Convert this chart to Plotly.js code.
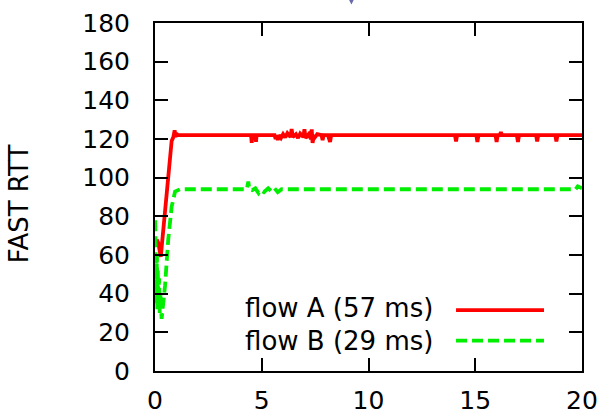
<!DOCTYPE html>
<html>
<head>
<meta charset="utf-8">
<script src="https://cdn.plot.ly/plotly-3.0.1.min.js"></script>
<style>html,body{margin:0;padding:0;background:#fff;}#chart{width:604px;height:418px;}</style>
</head>
<body>
<div id="chart"></div>
<script>
// flow A (57 ms) — FAST RTT vs time
const timeA = [0.08, 0.16, 0.27, 0.45, 0.62, 0.78, 0.86, 0.92, 0.96, 1.0, 1.05, 1.1,
  4.5, 4.53, 4.56, 4.7, 4.73, 4.76,
  5.6, 5.65, 5.7, 5.75, 5.8, 5.9, 6.0, 6.1, 6.2, 6.35, 6.4, 6.45, 6.6, 6.7, 6.8, 6.95, 7.0, 7.05,
  7.2, 7.3, 7.34, 7.38, 7.45, 7.5, 7.6, 7.8, 7.85, 7.9, 8.1, 8.2, 8.25, 8.3,
  14.05, 14.1, 14.15, 15.05, 15.1, 15.15, 15.95, 16.0, 16.05, 16.15, 16.2, 16.25,
  16.95, 17.0, 17.05, 17.85, 17.9, 17.95, 18.75, 18.8, 18.85, 20];
const rttA = [68, 66, 59, 82, 101, 119, 121, 124.5, 121, 123, 122, 122,
  122, 118, 122, 122, 118.5, 122,
  122, 120, 122, 119.5, 122, 120.5, 122.5, 120.8, 123, 121, 125.2, 121, 122.5, 120.5, 122.8, 121, 125, 120.5,
  122.5, 120, 125, 118, 122, 121, 122.5, 122, 119.5, 122, 122, 118.5, 122, 122,
  122, 118.7, 122, 122, 118.5, 122, 122, 118.5, 122, 122, 123.5, 122,
  122, 118.5, 122, 122, 118.7, 122, 122, 118.7, 122, 122];

// flow B (29 ms)
const timeB = [0.01, 0.03, 0.05, 0.07, 0.09, 0.11, 0.13, 0.16, 0.19, 0.22, 0.26, 0.31,
  0.47, 0.62, 0.78, 0.94, 1.17,
  4.3, 4.37, 4.42, 4.55, 4.7, 4.85, 4.95, 5.1, 5.3, 5.45, 5.6, 5.75, 5.93,
  19.7, 19.8, 20];
const rttB = [78, 45, 70, 35, 60, 32, 52, 36, 48, 30, 40, 27,
  44, 68, 85, 92.8, 94,
  94, 98, 94, 93.5, 94.5, 92, 93.5, 92.5, 94.5, 93, 94.5, 92.5, 94,
  94, 95.5, 94.5];

const xTicks = [0, 5, 10, 15, 20];
const yTicks = [0, 20, 40, 60, 80, 100, 120, 140, 160, 180];
const seriesNames = ["flow A (57 ms)", "flow B (29 ms)"];
const yTitle = "FAST RTT";

const FONT = "DejaVu Sans, Arial, sans-serif";

const traces = [
  {x: timeA, y: rttA, type: "scatter", mode: "lines", name: seriesNames[0],
   line: {color: "#ff0000", width: 3.8}},
  {x: timeB, y: rttB, type: "scatter", mode: "lines", name: seriesNames[1],
   line: {color: "#00ee00", width: 3.8, dash: "11px,5px"}}
];

const axisCommon = {
  showgrid: false, zeroline: false, showline: true, linecolor: "#000", linewidth: 2,
  mirror: "ticks", ticks: "inside", ticklen: 13, tickwidth: 2, tickcolor: "#000",
  tickfont: {family: FONT, size: 25, color: "#000"}
};

const layout = {
  width: 604, height: 418,
  margin: {l: 155, r: 22, t: 23, b: 47},
  paper_bgcolor: "#fff", plot_bgcolor: "#fff",
  showlegend: false,
  xaxis: Object.assign({}, axisCommon, {range: [0, 20], tickvals: xTicks, ticktext: xTicks.map(String), ticklabelstandoff: 6}),
  yaxis: Object.assign({}, axisCommon, {range: [0, 180], tickvals: yTicks, ticktext: yTicks.map(String), ticklabelstandoff: 18}),
  annotations: [
    {text: yTitle, xref: "paper", yref: "paper", x: -0.318, y: 0.48, textangle: -90,
     showarrow: false, xanchor: "center", yanchor: "middle", font: {family: FONT, size: 26, color: "#000"}},
    {text: seriesNames[0], xref: "paper", yref: "paper", x: 0.6557, y: 0.181,
     showarrow: false, xanchor: "right", yanchor: "middle", font: {family: FONT, size: 26, color: "#000"}},
    {text: seriesNames[1], xref: "paper", yref: "paper", x: 0.6557, y: 0.086,
     showarrow: false, xanchor: "right", yanchor: "middle", font: {family: FONT, size: 26, color: "#000"}}
  ],
  shapes: [
    {type: "line", xref: "paper", yref: "paper", x0: 0.705, x1: 0.911, y0: 0.175, y1: 0.175,
     line: {color: "#ff0000", width: 3.8}},
    {type: "line", xref: "paper", yref: "paper", x0: 0.705, x1: 0.911, y0: 0.087, y1: 0.087,
     line: {color: "#00ee00", width: 3.8, dash: "11px,5px"}},
    {type: "path", xref: "paper", yref: "paper",
     path: "M 0.451,1.075 L 0.469,1.075 L 0.46,1.053 Z",
     fillcolor: "#6a6aaa", line: {width: 0}}
  ]
};

Plotly.newPlot("chart", traces, layout, {displayModeBar: false, staticPlot: true});
</script>
</body>
</html>
